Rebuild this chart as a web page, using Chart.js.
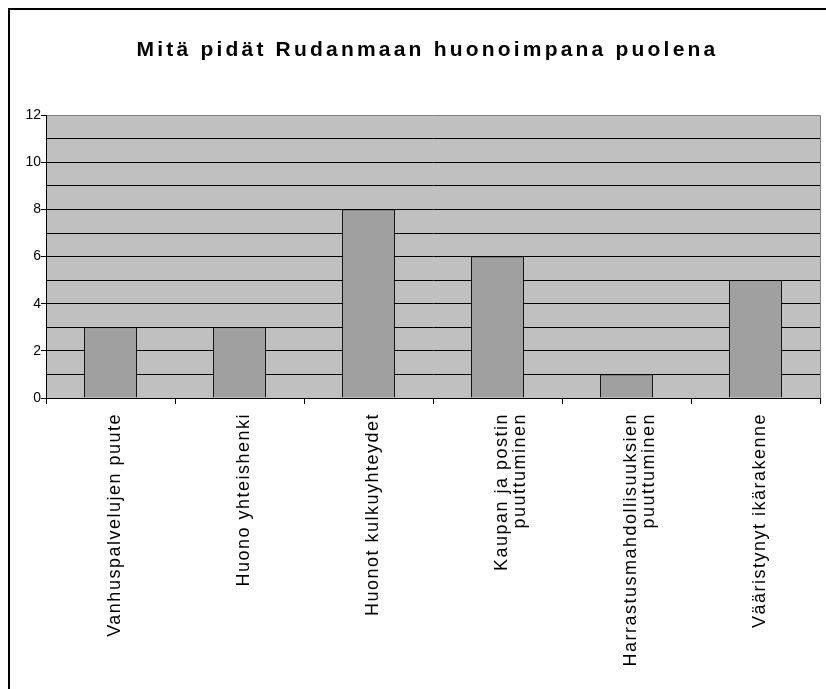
<!DOCTYPE html>
<html>
<head>
<meta charset="utf-8">
<script src="https://cdn.jsdelivr.net/npm/chart.js@4/dist/chart.umd.min.js"></script>
<style>
  html, body { margin: 0; padding: 0; background: #fff; }
  #wrap { width: 826px; height: 689px; position: relative; }
</style>
</head>
<body>
<div id="wrap"><canvas id="chart" width="826" height="689"></canvas></div>
<script>
// data
const categories = [
  'Vanhuspalvelujen puute',
  'Huono yhteishenki',
  'Huonot kulkuyhteydet',
  ['Kaupan ja postin', 'puuttuminen'],
  ['Harrastusmahdollisuuksien', 'puuttuminen'],
  'Vääristynyt ikärakenne'
];
const answers = [3, 3, 8, 6, 1, 5];
const yMax = 12;

// grey plot background + outer frame
const frame = {
  id: 'frame',
  beforeDraw(chart) {
    const { ctx, chartArea: a } = chart;
    ctx.save();
    ctx.fillStyle = '#c0c0c0';
    ctx.fillRect(a.left, a.top, a.right - a.left, a.bottom - a.top);
    ctx.restore();
  },
  afterDraw(chart) {
    const { ctx, chartArea: a } = chart;
    ctx.save();
    ctx.strokeStyle = '#808080';
    ctx.lineWidth = 1;
    ctx.beginPath();
    ctx.moveTo(a.right + 0.5, a.top);
    ctx.lineTo(a.right + 0.5, a.bottom);
    ctx.stroke();
    ctx.strokeStyle = '#000';
    ctx.lineWidth = 2;
    ctx.strokeRect(9, 9, 830, 690);
    ctx.restore();
  }
};

// the old office chart has wide letter spacing, canvas can do that
function spaced(obj, method, spacing, dx) {
  if (!obj || obj['_spaced_' + method]) return;
  const orig = obj[method].bind(obj);
  obj[method] = function (...args) {
    const ctx = obj.ctx || obj.chart.ctx;
    ctx.save();
    ctx.letterSpacing = spacing;
    ctx.translate(dx, 0);
    orig(...args);
    ctx.restore();
  };
  obj['_spaced_' + method] = true;
}
const spacing = {
  id: 'spacing',
  afterLayout(chart) {
    spaced(chart.titleBlock, 'draw', '3.2px', 13.5);
    spaced(chart.scales.x, 'drawLabels', '1.5px', 0);
  }
};

new Chart(document.getElementById('chart'), {
  type: 'bar',
  data: {
    labels: categories,
    datasets: [{
      data: answers,
      backgroundColor: '#a0a0a0',
      borderColor: '#000',
      borderWidth: 1,
      barPercentage: 0.41,
      categoryPercentage: 1
    }]
  },
  options: {
    responsive: false,
    animation: false,
    layout: { padding: { left: 8, right: 6, top: 0, bottom: 0 } },
    plugins: {
      legend: { display: false },
      tooltip: { enabled: false },
      title: {
        display: true,
        text: 'Mitä pidät Rudanmaan huonoimpana puolena',
        color: '#000',
        font: { family: 'Liberation Sans, Arial', size: 21, weight: 'bold' },
        padding: { top: 38, bottom: 52 }
      }
    },
    scales: {
      x: {
        offset: true,
        grid: {
          offset: true,
          drawOnChartArea: false,
          drawTicks: true,
          tickLength: 6,
          tickColor: '#000'
        },
        border: { color: '#000', width: 1 },
        ticks: {
          minRotation: 90,
          maxRotation: 90,
          autoSkip: false,
          color: '#000',
          padding: 9,
          labelOffset: 5,
          font: { family: 'Liberation Sans, Arial', size: 18, lineHeight: 1.0 }
        },
        afterFit(scale) { scale.height = 291; }
      },
      y: {
        min: 0,
        max: yMax,
        grid: {
          color: ctx => ctx.tick && ctx.tick.value === yMax ? '#808080' : '#000',
          lineWidth: 1,
          tickLength: 5,
          tickColor: ctx => ctx.tick && ctx.tick.value % 2 === 0 ? '#000' : 'rgba(0,0,0,0)'
        },
        border: { color: '#000', width: 1 },
        ticks: {
          stepSize: 1,
          color: '#000',
          padding: 0,
          font: { family: 'Liberation Sans, Arial', size: 14 },
          callback: v => (v % 2 === 0 ? v : '')
        },
        afterFit(scale) { scale.width = 38; }
      }
    }
  },
  plugins: [frame, spacing]
});
</script>
</body>
</html>
